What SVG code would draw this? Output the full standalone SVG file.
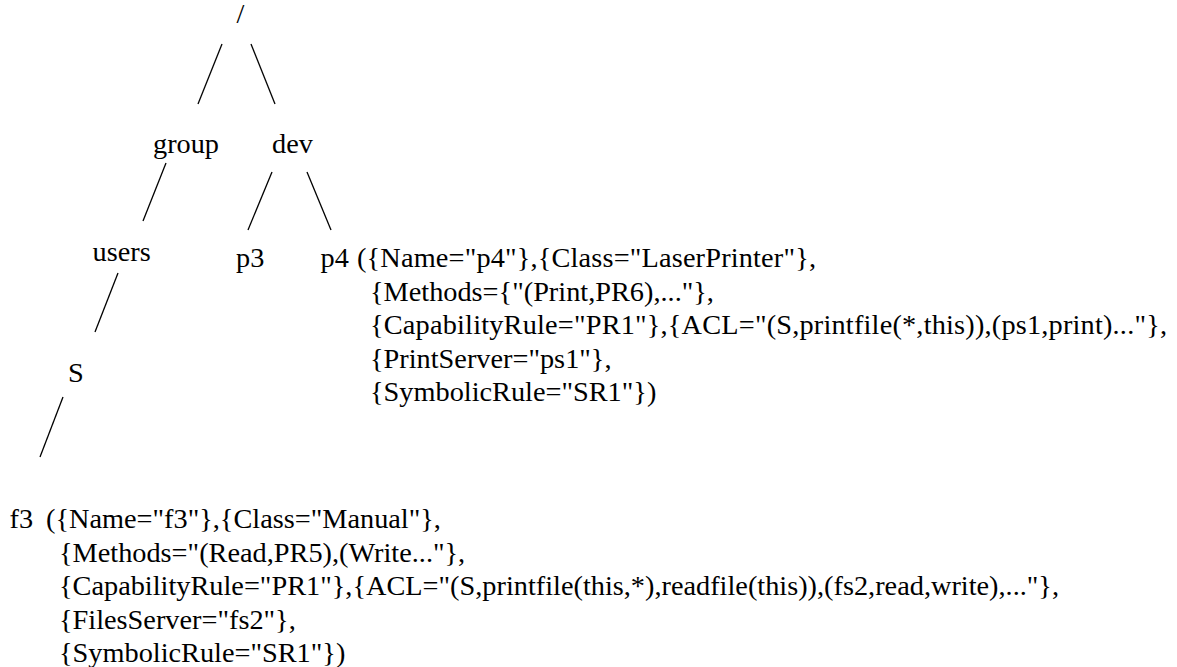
<svg xmlns="http://www.w3.org/2000/svg" width="1177" height="667" viewBox="0 0 1177 667">
<style>
text{font-family:'Liberation Serif',Tinos,'Times New Roman','DejaVu Serif',serif;font-size:28.3px;fill:#000}
.e{stroke:#000;stroke-width:1.3;fill:none}
</style>
<rect width="1177" height="667" fill="#fff"/>
<g id="connectors">
<line class="e" x1="222" y1="44" x2="198" y2="104"/>
<line class="e" x1="251" y1="44" x2="275" y2="104"/>
<line class="e" x1="166" y1="163" x2="143" y2="221"/>
<line class="e" x1="272" y1="172" x2="248" y2="230"/>
<line class="e" x1="307" y1="172" x2="331" y2="230"/>
<line class="e" x1="118" y1="273" x2="95" y2="332"/>
<line class="e" x1="63" y1="397" x2="40" y2="457"/>
</g>
<g id="root"><text x="236.5" y="22.5">/</text></g>
<g id="group"><text x="153" y="153">group</text></g>
<g id="dev"><text x="272" y="153">dev</text></g>
<g id="users"><text x="92.5" y="261">users</text></g>
<g id="p3"><text x="236" y="266.5">p3</text></g>
<g id="p4">
<text x="320.5" y="266.5">p4</text>
<text x="357" y="266.5" textLength="459" lengthAdjust="spacing">({Name="p4"},{Class="LaserPrinter"},</text>
<text x="370" y="300.5">{Methods={"(Print,PR6),..."},</text>
<text x="370" y="334" textLength="797" lengthAdjust="spacing">{CapabilityRule="PR1"},{ACL="(S,printfile(*,this)),(ps1,print)..."},</text>
<text x="370" y="367.5">{PrintServer="ps1"},</text>
<text x="370" y="401">{SymbolicRule="SR1"})</text>
</g>
<g id="S"><text x="68" y="381.5">S</text></g>
<g id="f3">
<text x="9.5" y="528">f3</text>
<text x="46" y="528">({Name="f3"},{Class="Manual"},</text>
<text x="59" y="561.5">{Methods="(Read,PR5),(Write..."},</text>
<text x="59" y="595">{CapabilityRule="PR1"},{ACL="(S,printfile(this,*),readfile(this)),(fs2,read,write),..."},</text>
<text x="59" y="628.5">{FilesServer="fs2"},</text>
<text x="59" y="662">{SymbolicRule="SR1"})</text>
</g>
</svg>
